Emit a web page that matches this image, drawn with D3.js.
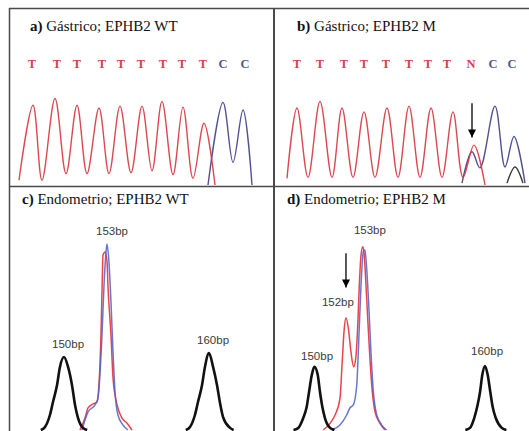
<!DOCTYPE html>
<html>
<head>
<meta charset="utf-8">
<script src="https://cdn.jsdelivr.net/npm/d3@7"></script>
<style>
  html, body { margin: 0; padding: 0; background: #fff; }
  svg { display: block; }
</style>
</head>
<body>
<svg id="fig" width="529" height="431"></svg>
<script>
// ---- Sequencing (Sanger) panels: base calls and trace peaks in scan units ----
const callsA = ["T","T","T","T","T","T","T","T","T","C","C"];
const callScanA = [11.5, 24, 34, 46.5, 56, 66, 77, 86.5, 97, 107, 118];
const traceTA = [[5,5],[12,84],[16.5,5],[23,91],[28.5,12],[34,84],[39,12],[45,81],[50,12],
  [55.5,83],[61,13],[66.5,83],[71.5,15],[76.5,88],[82,11],[87,82],[92,7],[97.5,65],[103,0]];
const traceCA = [[99.5,0],[107,87],[112,24],[117,79],[121.5,0]];

const callsB = ["T","T","T","T","T","T","T","T","N","C","C"];
const callScanB = [11, 22.5, 34.5, 44.5, 55.5, 67, 76.5, 86, 98, 109, 118.5];
const traceTB = [[6,7],[11,81],[16.5,8],[22.5,88],[28.5,8],[33.5,81],[39,8],[44.5,77],[50,8],
  [56,81],[61.5,8],[67,83],[72.5,8],[78,81],[83.5,8],[89,77],[94,8],[99.5,42],[105,0]];
const traceCB = [[93.5,2],[98.5,35],[102.5,18],[110,83],[115,19],[119.5,51],[125,2]];
const traceGB = [[116,2],[120,19],[124,2]];
const arrowB = {scan: 98.5, from: 86, to: 50};

// ---- Fragment analysis panels: size (bp) vs fluorescence ----
const std150C = [[148.4,0],[148.69,1.6],[149.03,7.9],[149.24,14.7],[149.52,23.7],[149.72,33.2],[150,38.4],
  [150.28,33.2],[150.55,23.7],[150.76,13.2],[150.97,6.3],[151.31,1.1],[151.6,0]];
const std160C = [[158.4,0],[158.69,1.6],[159.03,7.9],[159.24,14.7],[159.52,23.7],[159.72,33.2],[160,40.5],
  [160.28,33.2],[160.55,23.7],[160.76,14.2],[160.97,6.8],[161.45,1.1],[161.7,0]];
const redC = [[151.10,0],[151.45,6.3],[151.66,11.6],[152.00,13.7],[152.28,14.7],[152.41,23.7],[152.55,50],
  [152.62,72.6],[152.69,92.1],[152.83,93.7],[152.97,88.4],[153.03,76.3],[153.24,50],[153.38,27.4],
  [153.66,13.2],[154.00,6.3],[154.34,3.7],[154.69,0]];
const blueC = [[151.24,0],[151.66,9.5],[152.14,13.2],[152.34,16.8],[152.62,50],[152.76,76.3],[152.90,93.7],
  [152.97,97.9],[153.10,88.4],[153.24,67.4],[153.38,41.1],[153.52,20],[153.72,7.9],[154.07,2.6],[154.41,0]];
const labelsC = [{t:"150bp", bp:150.28, v:43.2},{t:"153bp", bp:153.31, v:102.6},{t:"160bp", bp:160.28, v:45.3}];

const std150D = [[148.8,0],[149.08,1.1],[149.37,6.3],[149.57,12.1],[149.71,20],[149.87,28.9],[150.02,33.3],
  [150.22,28.9],[150.35,20],[150.49,12.1],[150.64,6.3],[150.94,1.1],[151.2,0]];
const std160D = [[158.85,0],[159.12,1.1],[159.37,6.3],[159.54,12.1],[159.71,20],[159.84,28.9],[160,33.7],
  [160.16,28.9],[160.31,20],[160.45,12.1],[160.63,6.3],[160.98,1.1],[161.25,0]];
const redD = [[150.54,0],[150.94,3.5],[151.23,7.9],[151.52,16.7],[151.65,35.9],[151.77,53.5],[151.87,59.1],
  [152.01,53.5],[152.16,41.2],[152.32,33.3],[152.44,37.7],[152.56,55.3],[152.65,76.3],[152.75,92.1],
  [152.85,96.5],[152.92,93.8],[153.02,79.8],[153.14,58.8],[153.27,37.7],[153.41,20.2],[153.57,9.6],
  [153.86,3.5],[154.15,0]];
const blueD = [[151.04,0],[151.52,2.6],[151.91,7.9],[152.11,11.7],[152.30,13.2],[152.50,23.7],[152.63,50],
  [152.75,76.3],[152.88,93.8],[152.98,94.7],[153.08,85.1],[153.22,62.3],[153.33,41.2],[153.47,20.2],
  [153.67,7.9],[153.96,2.6],[154.25,0]];
const labelsD = [{t:"150bp", bp:150.18, v:36.8},{t:"152bp", bp:151.40, v:65.3},
  {t:"153bp", bp:153.27, v:103.2},{t:"160bp", bp:160.12, v:39.5}];
const arrowD = {bp: 151.87, from: 93, to: 75};

const titles = [
  {tag:"a)", text:" Gástrico; EPHB2 WT"},
  {tag:"b)", text:" Gástrico; EPHB2 M"},
  {tag:"c)", text:" Endometrio; EPHB2 WT"},
  {tag:"d)", text:" Endometrio; EPHB2 M"}
];

// ---- colours ----
const RED = "#d8343f", NAVY = "#3e3f86", PINK_T = "#d8404e", CALL_C = "#55568a";
const FRED = "#e8222a", FBLUE = "#4d5fc8";

const svg = d3.select("#fig");
const defs = svg.append("defs");
defs.append("marker").attr("id","ah").attr("viewBox","0 0 10 10").attr("refX",10).attr("refY",5)
  .attr("markerWidth",9).attr("markerHeight",8).attr("markerUnits","userSpaceOnUse").attr("orient","auto")
  .append("path").attr("d","M0,0 L10,5 L0,10 Z").attr("fill","#000");

function clip(id, x, y, w, h){
  defs.append("clipPath").attr("id", id).append("rect").attr("x",x).attr("y",y).attr("width",w).attr("height",h);
}
clip("cA", 9, 70, 265, 116);
clip("cB", 275, 70, 254, 116);
clip("cC", 10, 187, 263, 244);
clip("cD", 275, 187, 254, 244);

// ---- sequencing panels ----
const yTop = d3.scaleLinear().domain([0,100]).range([185,90]);
function seqPanel(xs, clipId, calls, callScans, traces){
  calls.forEach((c,i)=>{
    svg.append("text").attr("x", xs(callScans[i])).attr("y", 68).attr("text-anchor","middle")
      .attr("font-family","Liberation Serif").attr("font-weight","bold").attr("font-size",12.5)
      .attr("fill", c === "C" ? CALL_C : PINK_T).text(c);
  });
  const line = d3.line().x(d=>xs(d[0])).y(d=>yTop(d[1])).curve(d3.curveCatmullRom.alpha(0.5));
  const g = svg.append("g").attr("clip-path",`url(#${clipId})`);
  traces.forEach(t=>{
    g.append("path").attr("d", line(t.data)).attr("fill","none").attr("stroke", t.color)
      .attr("stroke-width",1.4).attr("stroke-opacity",0.9);
  });
}
const xA = d3.scaleLinear().domain([0,132]).range([9,273]);
const xB = d3.scaleLinear().domain([0,127]).range([275,529]);
seqPanel(xA, "cA", callsA, callScanA, [{data:traceCA,color:NAVY},{data:traceTA,color:RED}]);
seqPanel(xB, "cB", callsB, callScanB, [{data:traceGB,color:"#222"},{data:traceCB,color:NAVY},{data:traceTB,color:RED}]);
svg.append("line").attr("x1",xB(arrowB.scan)).attr("x2",xB(arrowB.scan))
  .attr("y1",yTop(arrowB.from)).attr("y2",yTop(arrowB.to))
  .attr("stroke","#000").attr("stroke-width",1.3).attr("marker-end","url(#ah)");

// ---- fragment panels ----
const yBot = d3.scaleLinear().domain([0,100]).range([430,240]);
function fragPanel(xs, clipId, stds, red, blue, labels){
  const line = d3.line().x(d=>xs(d[0])).y(d=>yBot(d[1])).curve(d3.curveMonotoneX);
  const g = svg.append("g").attr("clip-path",`url(#${clipId})`);
  g.append("path").attr("d", line(red)).attr("fill","none").attr("stroke",FRED).attr("stroke-width",1.5).attr("stroke-opacity",0.85);
  g.append("path").attr("d", line(blue)).attr("fill","none").attr("stroke",FBLUE).attr("stroke-width",1.5).attr("stroke-opacity",0.85);
  stds.forEach(s=>{
    g.append("path").attr("d", line(s)).attr("fill","none").attr("stroke","#111").attr("stroke-width",2.6);
  });
  labels.forEach(l=>{
    svg.append("text").attr("x", xs(l.bp)).attr("y", yBot(l.v)).attr("text-anchor","middle")
      .attr("font-family","Liberation Sans").attr("font-size",11.5).attr("fill","#3a3a3a").text(l.t);
  });
}
const xC = d3.scaleLinear().domain([150,160]).range([64,209]);
const xD = d3.scaleLinear().domain([150,160]).range([314,485]);
fragPanel(xC, "cC", [std150C, std160C], redC, blueC, labelsC);
fragPanel(xD, "cD", [std150D, std160D], redD, blueD, labelsD);
svg.append("line").attr("x1",xD(arrowD.bp)).attr("x2",xD(arrowD.bp))
  .attr("y1",yBot(arrowD.from)).attr("y2",yBot(arrowD.to))
  .attr("stroke","#000").attr("stroke-width",1.3).attr("marker-end","url(#ah)");

// ---- titles ----
const titlePos = [[30,31],[297,31],[22,204],[287,204]];
titles.forEach((t,i)=>{
  const tx = svg.append("text").attr("x", titlePos[i][0]).attr("y", titlePos[i][1])
    .attr("font-family","Liberation Serif").attr("font-size",15).attr("fill","#111");
  tx.append("tspan").attr("font-weight","bold").text(t.tag);
  tx.append("tspan").text(t.text);
});

// ---- frame ----
const frame = svg.append("g").attr("stroke","#4a4a4a").attr("fill","none");
frame.append("line").attr("x1",9).attr("x2",529).attr("y1",8.5).attr("y2",8.5).attr("stroke-width",1.5);
frame.append("line").attr("x1",9.5).attr("x2",9.5).attr("y1",8).attr("y2",431).attr("stroke-width",1.5);
frame.append("line").attr("x1",274).attr("x2",274).attr("y1",8).attr("y2",431).attr("stroke-width",2);
frame.append("line").attr("x1",9).attr("x2",529).attr("y1",186.5).attr("y2",186.5).attr("stroke-width",1.5);
</script>
</body>
</html>
